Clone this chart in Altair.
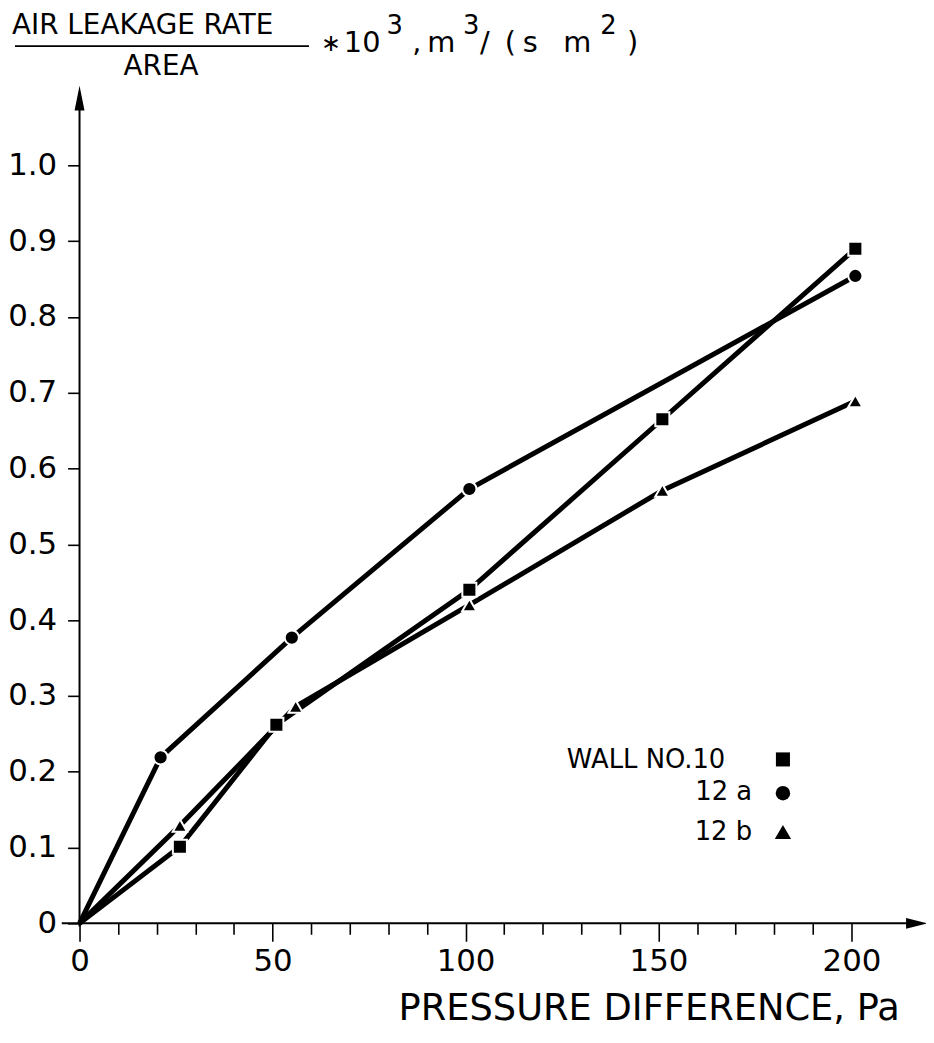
import altair as alt
import pandas as pd

FONT = "DejaVu Sans"

# ---------------- data ----------------
series_names = ["WALL NO.10", "12 a", "12 b"]
series_shapes = ["square", "circle", "triangle-up"]
series_sizes = [200, 210, 270]

wall10_x = [0, 26, 51, 101, 151, 201]
wall10_y = [0.0, 0.101, 0.262, 0.440, 0.665, 0.890]

a12_x = [0, 21, 55, 101, 201]
a12_y = [0.0, 0.219, 0.377, 0.573, 0.854]

b12_x = [0, 26, 56, 101, 151, 201]
b12_y = [0.0, 0.129, 0.286, 0.420, 0.571, 0.689]

x_major_ticks = [0, 50, 100, 150, 200]
x_minor_ticks = list(range(0, 201, 10))
y_ticks = [0, 0.1, 0.2, 0.3, 0.4, 0.5, 0.6, 0.7, 0.8, 0.9, 1.0]

x_title = "PRESSURE DIFFERENCE, Pa"

# axis extents (data units) for the arrowed axis lines
X_AXIS_START, X_AXIS_END = -4.6, 219.8
Y_AXIS_START, Y_AXIS_END = -0.004, 1.105

# ---------------- build table ----------------
rows = []
for name, xs, ys in [(series_names[0], wall10_x, wall10_y),
                     (series_names[1], a12_x, a12_y),
                     (series_names[2], b12_x, b12_y)]:
    for xv, yv in zip(xs, ys):
        rows.append({"series": name, "x": xv, "y": yv})
df = pd.DataFrame(rows)

W, H = 777, 763

xscale = alt.Scale(domain=[0, 200], nice=False, zero=False)
yscale = alt.Scale(domain=[0, 1.0], nice=False, zero=False)
shape_scale = alt.Scale(domain=series_names, range=series_shapes)
size_scale = alt.Scale(domain=series_names, range=series_sizes)

x_axis = alt.Axis(
    values=x_minor_ticks,
    tickSize={"condition": {"test": "datum.value % 50 === 0", "value": 18}, "value": 11},
    tickWidth=1.6,
    tickColor="black",
    labelExpr="datum.value % 50 === 0 ? datum.label : ''",
    labelFontSize=31,
    labelFont=FONT,
    labelColor="black",
    labelPadding=5,
    labelFlush=False,
    labelOverlap=False,
    domain=False,
    grid=False,
    title=x_title,
    titleFont=FONT,
    titleFontSize=37,
    titleFontWeight="normal",
    titleColor="black",
    titleAlign="right",
    titleAnchor="end",
    titleX=825,
    titleY=97,
    titleBaseline="alphabetic",
)

y_axis = alt.Axis(
    values=y_ticks,
    tickSize=12,
    tickWidth=1.6,
    tickColor="black",
    labelExpr="datum.value === 0 ? '0' : format(datum.value, '.1f')",
    labelFontSize=31,
    labelFont=FONT,
    labelColor="black",
    labelPadding=11,
    labelFlush=False,
    labelOverlap=False,
    domain=False,
    grid=False,
    title=None,
)

base = alt.Chart(df)

lines = base.mark_line(color="black", strokeWidth=5, strokeCap="butt").encode(
    x=alt.X("x:Q", scale=xscale, axis=x_axis),
    y=alt.Y("y:Q", scale=yscale, axis=y_axis),
    detail="series:N",
)

points = base.transform_filter("datum.x > 0").mark_point(
    filled=True, fill="black", stroke="white", strokeWidth=2, opacity=1
).encode(
    x=alt.X("x:Q", scale=xscale, axis=x_axis),
    y=alt.Y("y:Q", scale=yscale, axis=y_axis),
    shape=alt.Shape("series:N", scale=shape_scale, legend=None),
    size=alt.Size("series:N", scale=size_scale, legend=None),
)

# arrowed axes
axis_df = pd.DataFrame({"d": [0]})
x_line = alt.Chart(axis_df).mark_rule(color="black", strokeWidth=2).encode(
    x=alt.datum(X_AXIS_START, scale=xscale, axis=x_axis), x2=alt.datum(X_AXIS_END - 3),
    y=alt.datum(0, scale=yscale, axis=y_axis))
y_line = alt.Chart(axis_df).mark_rule(color="black", strokeWidth=2).encode(
    x=alt.datum(0, scale=xscale, axis=x_axis),
    y=alt.datum(Y_AXIS_START, scale=yscale, axis=y_axis), y2=alt.datum(Y_AXIS_END - 0.02))
x_arrow = alt.Chart(axis_df).mark_point(
    shape="M0,0L-2,-0.5L-2,0.5Z", size=484, filled=True, color="black", opacity=1
).encode(x=alt.datum(X_AXIS_END, scale=xscale, axis=x_axis),
         y=alt.datum(0, scale=yscale, axis=y_axis))
y_arrow = alt.Chart(axis_df).mark_point(
    shape="M0,0L-0.4,2L0.4,2Z", size=625, filled=True, color="black", opacity=1
).encode(x=alt.datum(0, scale=xscale, axis=x_axis),
         y=alt.datum(Y_AXIS_END, scale=yscale, axis=y_axis))

# ---------------- y-axis title (pixel layout relative to plot area) ----------------
# (text, x, baseline y, size, align)
title_pieces = [
    ("AIR LEAKAGE RATE", -68, -132, 28, "left"),
    ("AREA", 82, -91, 28, "center"),
    ("\u2217", 243, -115, 24, "left"),
    ("10", 266, -114, 29, "left"),
    ("3", 309, -132, 26, "left"),
    (",", 335, -114, 29, "left"),
    ("m", 350, -114, 29, "left"),
    ("3", 386, -132, 26, "left"),
    ("/", 403, -114, 29, "left"),
    ("(", 428, -114, 29, "left"),
    ("s", 446, -114, 29, "left"),
    ("m", 487, -114, 29, "left"),
    ("2", 524, -132, 26, "left"),
    (")", 551, -114, 29, "left"),
]

layers = [x_line, y_line, x_arrow, y_arrow, lines, points]
one = pd.DataFrame({"d": [0]})
for txt, px, py, fs, al in title_pieces:
    layers.append(
        alt.Chart(one).mark_text(text=txt, font=FONT, fontSize=fs, align=al,
                                 baseline="alphabetic", color="black")
        .encode(x=alt.value(px), y=alt.value(py))
    )
underline = alt.Chart(one).mark_rule(color="black", strokeWidth=1.6).encode(
    x=alt.value(-65), x2=alt.value(231), y=alt.value(-120))
layers.append(underline)

# ---------------- legend (labels left of symbols) ----------------
# (label right x, label baseline y, symbol x, symbol y)
legend_layout = [
    (650, 607, 708, 598),
    (677, 639, 708, 632),
    (677, 679, 708, 671),
]
for i, (lx, ly, sx, sy) in enumerate(legend_layout):
    layers.append(
        alt.Chart(one).mark_text(text=series_names[i], font=FONT, fontSize=26, align="right",
                                 baseline="alphabetic", color="black")
        .encode(x=alt.value(lx), y=alt.value(ly))
    )
    layers.append(
        alt.Chart(one).mark_point(shape=series_shapes[i], size=series_sizes[i], filled=True,
                                  color="black", opacity=1)
        .encode(x=alt.value(sx), y=alt.value(sy))
    )

chart = alt.layer(*layers).properties(
    width=W, height=H,
    autosize=alt.AutoSizeParams(type="none"),
    padding={"left": 72, "top": 155, "right": 75, "bottom": 104},
    background="white",
).configure_view(stroke=None)

chart.save("out.html", embed_options={"renderer": "svg", "actions": False})
